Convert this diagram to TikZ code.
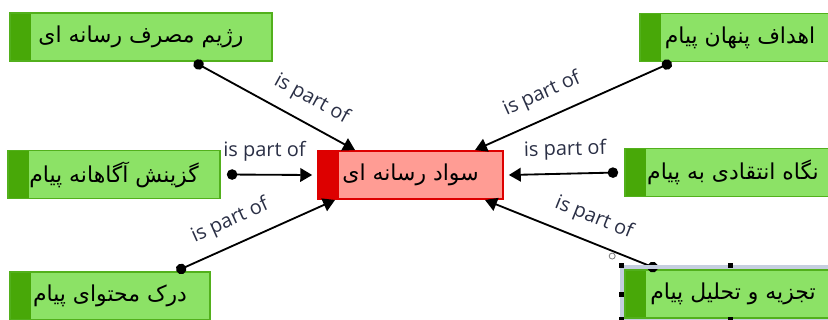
\documentclass[tikz,border=0pt]{standalone}
\usepackage{fontspec}
\setmainfont{Open Sans}
\newfontfamily\farsi[Script=Arabic]{DejaVu Sans}
\TeXXeTstate=1
\usepackage{tikz}
\usetikzlibrary{arrows.meta}
\usetikzlibrary{calc}

\begin{document}
\begin{tikzpicture}
        \definecolor{gfillcolor}{HTML}{8CE266}
        \definecolor{gstripecolor}{HTML}{48A808}
        \definecolor{gstrokecolor}{HTML}{52B01C}
        \definecolor{rfillcolor}{HTML}{FF9C94}
        \definecolor{rstrokecolor}{HTML}{DD0000}
        \definecolor{lblcolor}{HTML}{2A2F45}
        \definecolor{selcolor}{HTML}{C5CEDF}
        \tikzstyle{partof}=[{Circle[length=0.37cm]}-{Triangle[length=0.42cm,width=0.48cm]},line width=0.065cm,black]
        \tikzstyle{lbl}=[sloped,above,inner xsep=0.05cm,inner ysep=0.45cm,text=lblcolor,font=\fontsize{20}{20}\selectfont]
        \tikzset{concept/.style={rectangle,fill=#1fillcolor,draw=#1strokecolor,line width=0.06cm,
                minimum height=1.70cm,inner sep=0pt,text=black,font=\farsi\fontsize{22}{24}\selectfont,
                path picture={\fill[#1stripecolor] (path picture bounding box.north west) rectangle
                ([xshift=0.74cm]path picture bounding box.south west);}}}
        \colorlet{rstripecolor}{rstrokecolor}

        \useasboundingbox (0,0) rectangle (29.210cm,-11.289cm);
        \clip (0,0) rectangle (29.210cm,-11.289cm);

        \node [concept=g, minimum width=9.243cm] (rmc) at (4.974cm,-1.305cm) {\beginR رژیم مصرف رسانه ای\endR};
        \node [concept=g, minimum width=7.479cm] (gzp) at (4.022cm,-6.156cm) {\beginR گزینش آگاهانه پیام\endR};
        \node [concept=g, minimum width=7.056cm] (dmp) at (3.881cm,-10.442cm) {\beginR درک محتوای پیام\endR};
        \node [concept=g, minimum width=7.056cm] (ahp) at (26.106cm,-1.323cm) {\beginR اهداف پنهان پیام\endR};
        \node [concept=g, minimum width=7.620cm] (nep) at (25.859cm,-6.085cm) {\beginR نگاه انتقادی به پیام\endR};
        \node [concept=g, minimum width=7.620cm] (ttp) at (25.859cm,-10.372cm) {\beginR تجزیه و تحلیل پیام\endR};
        \node [concept=r, minimum width=6.526cm] (sr) at (14.482cm,-6.174cm) {\beginR سواد رسانه ای\endR};

        \draw [partof] ([xshift=1.870cm]rmc.south) -- ([xshift=-1.958cm]sr.north)
                node [lbl, pos=0.66] {is part of};
        \draw [partof] ([xshift=-2.413cm]ahp.south) -- ([xshift=2.275cm]sr.north)
                node [lbl, pos=0.61] {is part of};
        \draw [partof] ([xshift=0.212cm]gzp.east) -- ([xshift=-0.176cm]sr.west)
                node [lbl, pos=0.44] {is part of};
        \draw [partof] ([xshift=-0.212cm]nep.west) -- ([xshift=0.176cm]sr.east)
                node [lbl, pos=0.48] {is part of};
        \draw [partof] ([xshift=2.342cm]dmp.north) -- ([xshift=-2.663cm]sr.south)
                node [lbl, pos=0.40] {is part of};
        \draw [partof] ([xshift=-2.660cm]ttp.north) -- ([xshift=2.628cm]sr.south)
                node [lbl, pos=0.42] {is part of};

        % selection frame
        \draw [selcolor, line width=0.141cm] ([shift={(-0.088cm,0.088cm)}]ttp.north west) rectangle ([shift={(0.088cm,-0.088cm)}]ttp.south east);
        \foreach \a/\dy in {north west/0.141, north/0.141, west/0, south west/-0.035, south/-0.035}
                \fill [black] ([shift={(-0.194cm,\dy cm-0.088cm)}]ttp.\a) rectangle +(0.176cm,0.176cm);
        \draw [gray, fill=white, line width=0.03cm] ([shift={(-0.423cm,0.459cm)}]ttp.north west) circle (0.106cm);
\end{tikzpicture}
\end{document}
